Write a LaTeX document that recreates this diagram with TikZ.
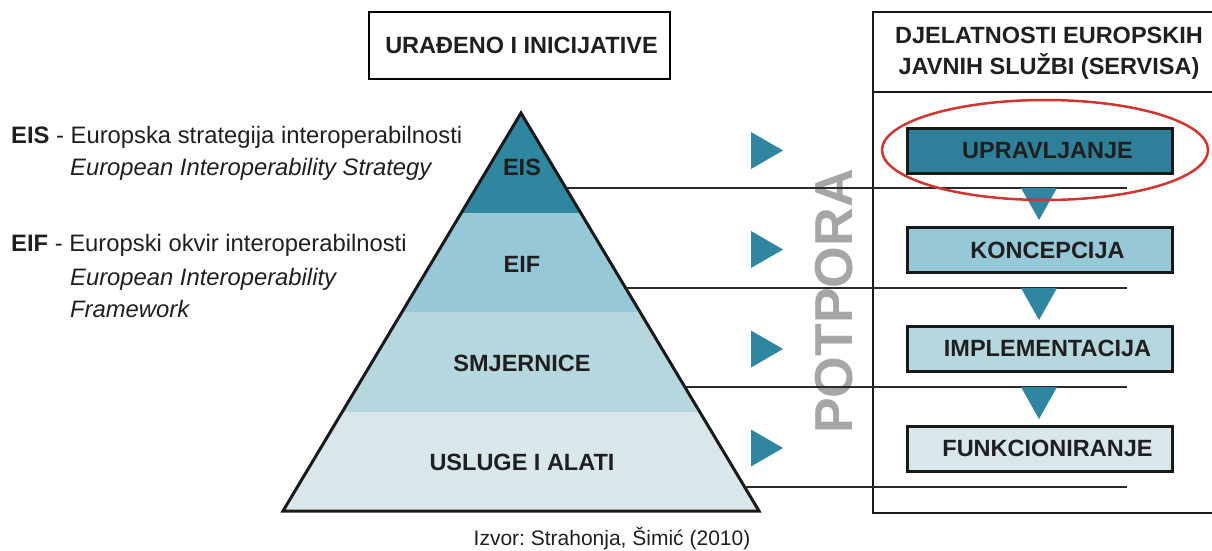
\documentclass[tikz,border=0pt]{standalone}
\usepackage{fontspec}
\setmainfont{Liberation Sans}
\usetikzlibrary{calc}
\frenchspacing
\definecolor{tealD}{HTML}{2E86A0}
\definecolor{tealBox}{HTML}{2E7F99}
\definecolor{bandB}{HTML}{96C8D7}
\definecolor{bandC}{HTML}{B7D7DF}
\definecolor{bandD}{HTML}{DAE7EA}
\definecolor{txt}{HTML}{1F1F1F}
\definecolor{lineG}{HTML}{2A2A2A}
\definecolor{potgray}{HTML}{A6A6A6}
\definecolor{ovalred}{HTML}{D03530}
\begin{document}
\begin{tikzpicture}[x=1pt,y=-1pt,
  lbl/.style={font=\fontsize{23.5}{28}\selectfont\bfseries, text=txt, inner sep=0pt},
  desc/.style={font=\fontsize{23.8}{28}\selectfont, text=txt, inner sep=0pt, anchor=base west},
  hdr/.style={draw=black, line width=2.5pt, fill=white},
  stepbox/.style={draw=black!90, line width=3pt, minimum width=265pt, minimum height=45pt, inner sep=0pt},
  hline/.style={draw=lineG, line width=1.6pt},
  panel/.style={draw=black!90, line width=2.2pt},
  tri/.style={fill=tealD}
]
\useasboundingbox (0,0) rectangle (1212,551);

% ---------- left header ----------
\node[hdr, minimum width=301pt, minimum height=67pt, inner sep=0pt] (hdrL) at (519.5,45.5) {};
\node[lbl] (hdrLt) at (521.5,45.5) {URAĐENO I INICIJATIVE};

% ---------- left descriptions ----------
\node[desc] (eisd) at (11,143) {\textbf{EIS} - Europska strategija interoperabilnosti};
\node[desc] (eise) at (70,175) {\itshape European Interoperability Strategy};
\node[desc] (eifd) at (11,251) {\textbf{EIF} - Europski okvir interoperabilnosti};
\node[desc] (eife) at (70,285) {\itshape European Interoperability};
\node[desc] (eiff) at (70,317) {\itshape Framework};

% ---------- POTPORA ----------
\node[rotate=90, inner sep=0pt, text=potgray, font=\fontsize{53.5}{60}\selectfont\bfseries] (potpora) at (834.5,301.5) {POTPORA};

% ---------- pyramid ----------
\coordinate (apex) at (521,113);
\coordinate (bl) at (283,511);
\coordinate (br) at (759,511);
\begin{scope}
  \clip (apex) -- (bl) -- (br) -- cycle;
  \fill[tealD] (250,100) rectangle (800,213);
  \fill[bandB] (250,213) rectangle (800,312);
  \fill[bandC] (250,312) rectangle (800,412);
  \fill[bandD] (250,412) rectangle (800,520);
\end{scope}
\draw[draw=black!90, line width=3pt, line join=miter] (apex) -- (bl) -- (br) -- cycle;

\node[lbl] (eis) at (522,167) {EIS};
\node[lbl] (eif) at (522,264) {EIF};
\node[lbl] (smj) at (522,363) {SMJERNICE};
\node[lbl] (usl) at (522,462) {USLUGE I ALATI};

% ---------- right panel ----------
\draw[panel] (1216,12) -- (873,12) -- (873,513) -- (1216,513);
\draw[panel] (873,92) -- (1216,92);
\node[lbl, align=center, font=\fontsize{23.5}{31}\selectfont\bfseries] (hdrR) at (1049,53) {DJELATNOSTI EUROPSKIH\\JAVNIH SLUŽBI (SERVISA)};

% ---------- right-pointing triangles ----------
\foreach \yc in {150.5,249.5,349,448}{
  \fill[tri] (751,\yc-18.5) -- (783,\yc) -- (751,\yc+18.5) -- cycle;
}

% ---------- horizontal lines ----------
\coordinate (lend) at (1127,0);
\foreach \yy/\nm in {188/e1,288/e2,387/e3,487/e4}{
  \coordinate (\nm) at ($(apex)!{(\yy-113)/398}!(br)$);
  \draw[hline] (\nm) -- (\nm -| lend);
}

% ---------- down triangles ----------
\foreach \yy in {188,288,387}{
  \fill[tri] (1021,\yy) -- (1057,\yy) -- (1039,\yy+32) -- cycle;
}

% ---------- step boxes ----------
\node[stepbox, fill=tealBox] (upr) at (1039.5,150.5) {};
\node[stepbox, fill=bandB] (kon) at (1039.5,250) {};
\node[stepbox, fill=bandC] (imp) at (1039.5,348.5) {};
\node[stepbox, fill=bandD] (fun) at (1039.5,448.5) {};
\node[lbl] (uprt) at ($(upr.center)+(8,0)$) {UPRAVLJANJE};
\node[lbl] (kont) at ($(kon.center)+(8,0)$) {KONCEPCIJA};
\node[lbl] (impt) at ($(imp.center)+(8,0)$) {IMPLEMENTACIJA};
\node[lbl] (funt) at ($(fun.center)+(8,0)$) {FUNKCIONIRANJE};

% ---------- red oval ----------
\draw[ovalred, line width=2.5pt] (1045,150) ellipse [x radius=163, y radius=50];

% ---------- source ----------
\node[inner sep=0pt, text=txt, font=\fontsize{21}{25}\selectfont] (src) at (612,538) {Izvor: Strahonja, Šimić (2010)};
\end{tikzpicture}
\end{document}
